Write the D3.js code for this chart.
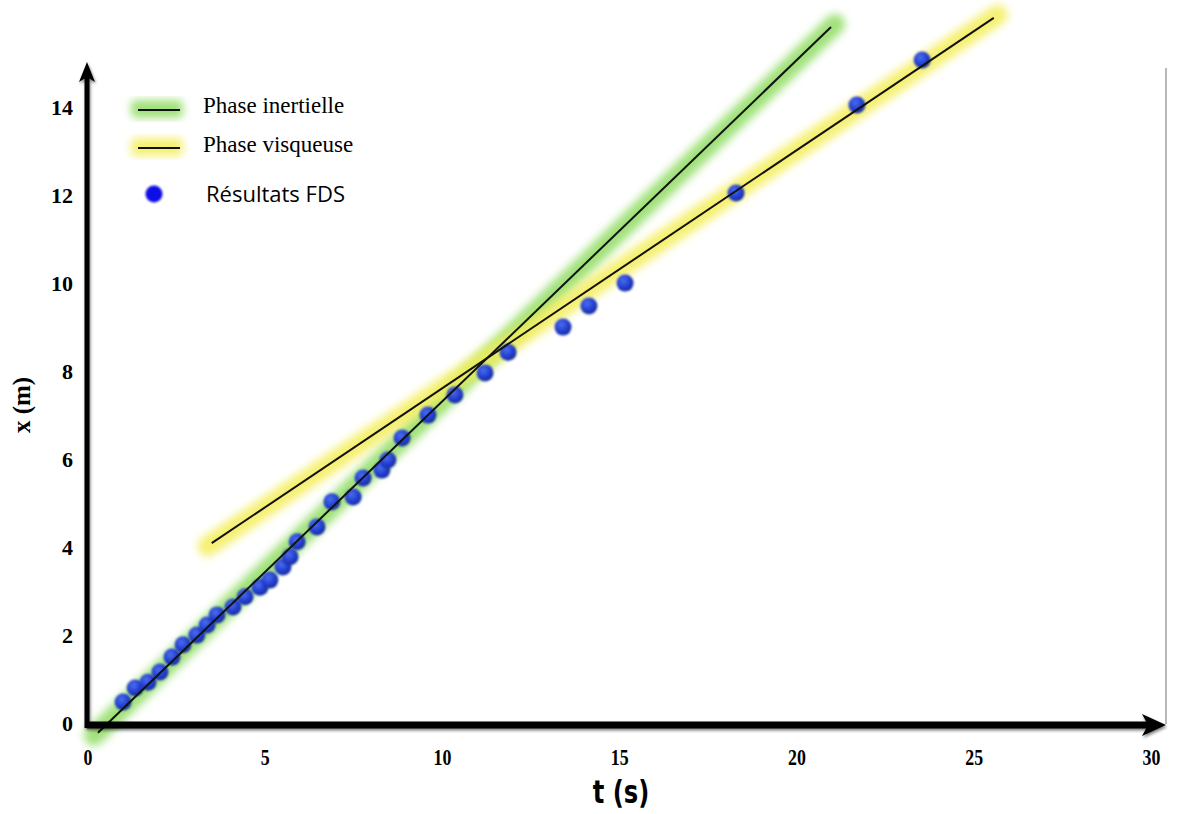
<!DOCTYPE html>
<html>
<head>
<meta charset="utf-8">
<script src="https://cdn.jsdelivr.net/npm/d3@7"></script>
<style>
  body { margin: 0; background: #fff; }
  svg { display: block; }
</style>
</head>
<body>
<svg id="chart"></svg>
<script>
// FDS results, t (s) and x (m)
const tValues = [0.99, 1.33, 1.69, 2.03, 2.37, 2.68, 3.07, 3.36, 3.64, 4.09, 4.43, 4.85, 5.13,
  5.5, 5.7, 5.9, 6.46, 6.88, 7.48, 7.76, 8.29, 8.46, 8.86, 9.59, 10.35, 11.2, 11.85,
  13.4, 14.13, 15.15, 18.28, 21.69, 23.53]
const xValues = [0.5, 0.82, 0.95, 1.18, 1.52, 1.8, 2.02, 2.25, 2.48, 2.66, 2.89, 3.11, 3.27,
  3.57, 3.8, 4.14, 4.48, 5.05, 5.16, 5.59, 5.77, 6.0, 6.5, 7.02, 7.48, 7.98, 8.45,
  9.02, 9.5, 10.02, 12.07, 14.07, 15.09]

// fitted lines (start / end in data units)
const inertT = [0.28, 20.96]
const inertX = [-0.2, 15.84]
const viscT = [3.49, 25.55]
const viscX = [4.11, 16.05]

const xTicks = [0, 5, 10, 15, 20, 25, 30]
const yTicks = [0, 2, 4, 6, 8, 10, 12, 14]
const legendLabels = ['Phase inertielle', 'Phase visqueuse', 'Résultats FDS']

const width = 1185
const height = 814

const svg = d3.select('#chart')
  .attr('width', width)
  .attr('height', height)

const x = d3.scaleLinear().domain([0, 30]).range([88, 1151.5])
const y = d3.scaleLinear().domain([0, 14]).range([724, 108])

const defs = svg.append('defs')

defs.append('filter')
  .attr('id', 'glow')
  .attr('x', '-20%').attr('y', '-20%').attr('width', '140%').attr('height', '140%')
  .append('feGaussianBlur')
  .attr('stdDeviation', 4)

defs.append('filter')
  .attr('id', 'soft')
  .append('feGaussianBlur')
  .attr('stdDeviation', 0.9)

const shadow = defs.append('filter')
  .attr('id', 'shadow')
  .attr('x', '-10%').attr('y', '-50%').attr('width', '120%').attr('height', '200%')
shadow.append('feDropShadow')
  .attr('dx', 1).attr('dy', 2).attr('stdDeviation', 1.5)
  .attr('flood-color', '#000').attr('flood-opacity', 0.5)

const grad = defs.append('radialGradient')
  .attr('id', 'dotGrad')
  .attr('cx', '40%').attr('cy', '35%').attr('r', '65%')
grad.append('stop').attr('offset', '0%').attr('stop-color', '#4d6df0')
grad.append('stop').attr('offset', '60%').attr('stop-color', '#2340d0')
grad.append('stop').attr('offset', '100%').attr('stop-color', '#182c9c')

// plot border on the right
svg.append('line')
  .attr('x1', 1166).attr('x2', 1166)
  .attr('y1', 68).attr('y2', 724)
  .attr('stroke', '#b8b8b8')
  .attr('stroke-width', 2)

// glow bands behind fitted lines
const fits = [
  { t: inertT, v: inertX, glow: '#8fdc62' },
  { t: viscT, v: viscX, glow: '#f4ee5a' }
]

svg.selectAll('.band')
  .data(fits)
  .enter().append('line')
  .attr('class', 'band')
  .attr('x1', d => x(d.t[0]) - 4)
  .attr('y1', d => y(d.v[0]) + 3)
  .attr('x2', d => x(d.t[1]) + 4)
  .attr('y2', d => y(d.v[1]) - 3)
  .attr('stroke', d => d.glow)
  .attr('stroke-width', 20)
  .attr('stroke-linecap', 'round')
  .attr('opacity', 0.85)
  .attr('filter', 'url(#glow)')

// points
const points = tValues.map((t, i) => ({ t: t, v: xValues[i] }))

svg.selectAll('circle.pt')
  .data(points)
  .enter().append('circle')
  .attr('class', 'pt')
  .attr('cx', d => x(d.t))
  .attr('cy', d => y(d.v))
  .attr('r', 8.5)
  .attr('fill', 'url(#dotGrad)')
  .attr('filter', 'url(#soft)')

// fitted lines
svg.selectAll('.fit')
  .data(fits)
  .enter().append('line')
  .attr('class', 'fit')
  .attr('x1', d => x(d.t[0]))
  .attr('y1', d => y(d.v[0]))
  .attr('x2', d => x(d.t[1]))
  .attr('y2', d => y(d.v[1]))
  .attr('stroke', '#111')
  .attr('stroke-width', 2)

// axes with arrows
const axes = svg.append('g').attr('filter', 'url(#shadow)')

axes.append('line')
  .attr('x1', 87).attr('x2', 1150)
  .attr('y1', 725).attr('y2', 725)
  .attr('stroke', '#000')
  .attr('stroke-width', 7)
axes.append('path')
  .attr('d', 'M1142,714 L1166,725 L1142,736 L1148,725 Z')
  .attr('fill', '#000')

axes.append('line')
  .attr('x1', 87).attr('x2', 87)
  .attr('y1', 728).attr('y2', 75)
  .attr('stroke', '#000')
  .attr('stroke-width', 5)
axes.append('path')
  .attr('d', 'M79,82 L87,62 L95,82 L87,77 Z')
  .attr('fill', '#000')

// tick labels
svg.selectAll('.xt')
  .data(xTicks)
  .enter().append('text')
  .attr('class', 'xt')
  .attr('transform', d => `translate(${x(d)},765) scale(0.85,1.1)`)
  .attr('text-anchor', 'middle')
  .attr('font-family', 'Liberation Serif, serif')
  .attr('font-weight', 'bold')
  .attr('font-size', 21)
  .text(d => d)

svg.selectAll('.yt')
  .data(yTicks)
  .enter().append('text')
  .attr('class', 'yt')
  .attr('x', 73)
  .attr('y', d => y(d) + 7)
  .attr('text-anchor', 'end')
  .attr('font-family', 'Liberation Serif, serif')
  .attr('font-weight', 'bold')
  .attr('font-size', 22)
  .text(d => d)

// axis titles
svg.append('text')
  .attr('transform', 'translate(621,803) scale(0.9,1.05)')
  .attr('text-anchor', 'middle')
  .attr('font-family', 'DejaVu Sans Condensed, DejaVu Sans, sans-serif')
  .attr('font-weight', 'bold')
  .attr('font-size', 30)
  .text('t (s)')

svg.append('text')
  .attr('transform', 'translate(30,405) rotate(-90)')
  .attr('text-anchor', 'middle')
  .attr('font-family', 'Liberation Serif, serif')
  .attr('font-weight', 'bold')
  .attr('font-size', 25)
  .text('x (m)')

// legend
const legend = svg.append('g')

const legendGlow = ['#8fdc62', '#f4ee5a']
legend.selectAll('.lg')
  .data(legendGlow)
  .enter().append('rect')
  .attr('class', 'lg')
  .attr('x', 131)
  .attr('y', (d, i) => 100 + i * 38)
  .attr('width', 52)
  .attr('height', 18)
  .attr('rx', 5)
  .attr('fill', d => d)
  .attr('opacity', 0.85)
  .attr('filter', 'url(#glow)')

legend.selectAll('.ll')
  .data(legendGlow)
  .enter().append('line')
  .attr('class', 'll')
  .attr('x1', 138).attr('x2', 180)
  .attr('y1', (d, i) => 110 + i * 38)
  .attr('y2', (d, i) => 110 + i * 38)
  .attr('stroke', '#111')
  .attr('stroke-width', 2)

legend.append('circle')
  .attr('cx', 154)
  .attr('cy', 194)
  .attr('r', 8.5)
  .attr('fill', '#1010e6')
  .attr('filter', 'url(#soft)')

legend.selectAll('.lt')
  .data(legendLabels.slice(0, 2))
  .enter().append('text')
  .attr('class', 'lt')
  .attr('x', 203)
  .attr('y', (d, i) => 113 + i * 39)
  .attr('font-family', 'Liberation Serif, serif')
  .attr('font-size', 23)
  .text(d => d)

legend.append('text')
  .attr('x', 206)
  .attr('y', 202)
  .attr('font-family', 'Open Sans, sans-serif')
  .attr('font-size', 22)
  .text(legendLabels[2])
</script>
</body>
</html>
